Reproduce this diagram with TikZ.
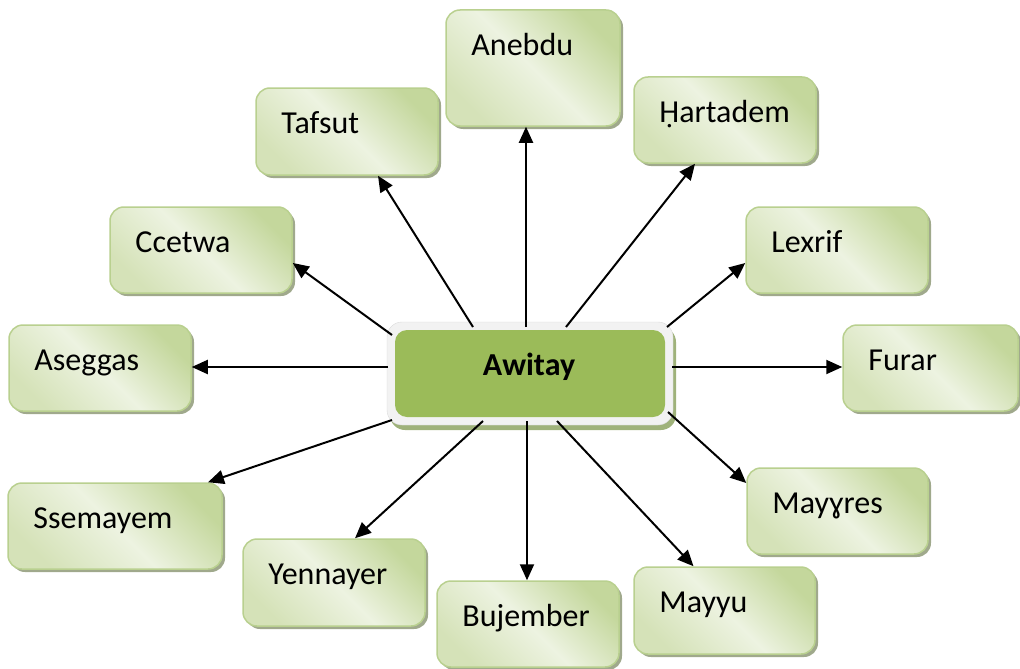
\documentclass[tikz,border=0pt]{standalone}
\usepackage{fontspec}
\setmainfont{Carlito}
\usetikzlibrary{arrows.meta,shadows,calc}

\definecolor{boxedge}{HTML}{B9D08F}
\definecolor{boxdark}{HTML}{C4D79C}
\definecolor{boxlight}{HTML}{EDF3E1}
\definecolor{boxmid}{HTML}{D5E2B8}
\definecolor{boxshadow}{HTML}{8F9A78}
\definecolor{coregreen}{HTML}{9BBB59}
\definecolor{framegray}{HTML}{F2F2F2}
\definecolor{frameshadow}{HTML}{95AA6C}

\tikzset{
  mbox/.style={rectangle, rounded corners=14pt, draw=boxedge, line width=1.5pt,
    top color=boxdark, bottom color=boxmid, middle color=boxlight, shading angle=-45,
    drop shadow={shadow xshift=3pt, shadow yshift=-3pt, fill=boxshadow, opacity=0.85},
    inner sep=0pt},
  mlabel/.style={inner sep=0pt, anchor=base west, text=black,
    font=\fontsize{32}{38}\selectfont},
  cframe/.style={rectangle, rounded corners=15pt, fill=framegray, draw=framegray!90!black,
    line width=0.4pt,
    drop shadow={shadow xshift=3pt, shadow yshift=-5pt, fill=frameshadow, opacity=0.9},
    inner sep=0pt},
  ccore/.style={rectangle, rounded corners=12pt, fill=coregreen, inner sep=0pt},
  ctext/.style={inner sep=0pt, text=black, font=\fontsize{32}{38}\selectfont\bfseries},
  link/.style={draw=black, line width=2pt, -{Triangle[length=16pt,width=14pt]}},
}

% box named #1 spanning (#2,#3)-(#4,#5), caption #6 set at its top left
\newcommand\monthbox[6]{%
  \node[mbox, minimum width={(#4-#2)*1pt}, minimum height={(#5-#3)*1pt}]
    (#1) at ({(#2+#4)/2},{(#3+#5)/2}) {};
  \node[mlabel] (#1t) at ([xshift=26pt,yshift=-46pt]#1.north west) {#6};
}

\begin{document}
\begin{tikzpicture}[x=1pt,y=-1pt]
\useasboundingbox (0,0) rectangle (1020,669);

% months around the centre
\monthbox{anebdu}{446}{10}{620}{126}{Anebdu}
\monthbox{tafsut}{256}{88}{438}{175}{Tafsut}
\monthbox{hartadem}{634}{77}{816}{163}{Ḥartadem}
\monthbox{ccetwa}{110}{207}{292}{293}{Ccetwa}
\monthbox{lexrif}{746}{207}{928}{293}{Lexrif}
\monthbox{aseggas}{9}{325}{191}{411}{Aseggas}
\monthbox{furar}{843}{325}{1018}{411}{Furar}
\monthbox{ssemayem}{8}{483}{222}{569}{Ssemayem}
\monthbox{mayres}{747}{468}{928}{554}{Mayɣres}
\monthbox{yennayer}{243}{539}{425}{626}{Yennayer}
\monthbox{bujember}{437}{581}{619}{667}{Bujember}
\monthbox{mayyu}{634}{567}{815}{654}{Mayyu}

% centre
\node[cframe, minimum width=286pt, minimum height=103pt] (awitay) at (530,373.5) {};
\node[ccore, minimum width=270pt, minimum height=87pt] (awitaycore) at (awitay.center) {};
\node[ctext, anchor=base] (awitayt) at (529,375) {Awitay};

% links
\draw[link] ($(awitay.center)+(-4,-46.5)$) -- ($(anebdu.south)+(-7,0)$);
\draw[link] ($(awitay.center)+(-57,-46.5)$) -- ($(tafsut.south)+(31,0)$);
\draw[link] ($(awitay.center)+(36,-46.5)$) -- ($(hartadem.south)+(-30,0)$);
\draw[link] ($(awitay.center)+(-138,-38.5)$) -- ($(ccetwa.east)+(0,13)$);
\draw[link] ($(awitay.center)+(137,-46.5)$) -- ($(lexrif.west)+(0,13)$);
\draw[link] ($(awitay.center)+(-142,-6.5)$) -- ($(aseggas.east)+(0,-1)$);
\draw[link] ($(awitay.center)+(142,-6.5)$) -- ($(furar.west)+(0,-1)$);
\draw[link] ($(awitay.center)+(-138,46.5)$) -- ($(ssemayem.north)+(93,0)$);
\draw[link] ($(awitay.center)+(-47,47.5)$) -- ($(yennayer.north)+(21,0)$);
\draw[link] ($(awitay.center)+(-3,47.5)$) -- ($(bujember.north)+(-1,0)$);
\draw[link] ($(awitay.center)+(27,47.5)$) -- ($(mayyu.north)+(-31,0)$);
\draw[link] ($(awitay.center)+(138,38.5)$) -- ($(mayres.west)+(0,-28)$);
\end{tikzpicture}
\end{document}
